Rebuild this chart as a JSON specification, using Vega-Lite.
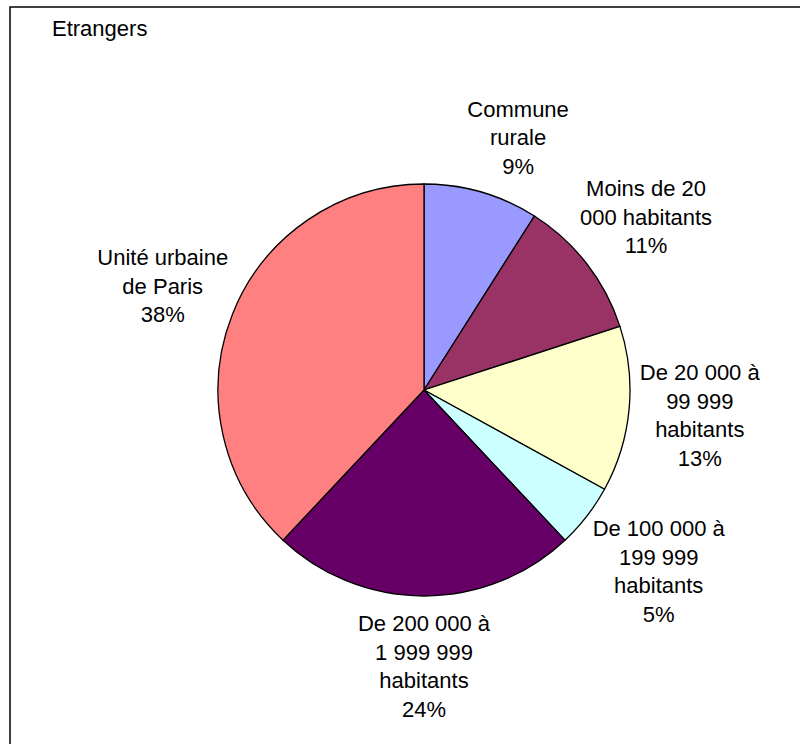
{
  "$schema": "https://vega.github.io/schema/vega-lite/v6.json",
  "autosize": {"type": "none"},
  "width": 828,
  "height": 766,
  "padding": {"left": 10, "top": 7, "right": -38, "bottom": -29},
  "background": "white",
  "view": {"stroke": "black", "strokeWidth": 1.5, "fill": "white"},
  "config": {"view": {"stroke": "black", "strokeWidth": 1.5}, "font": "Liberation Sans"},
  "title": {"text": "Etrangers", "anchor": "start", "frame": "group", "orient": "top", "offset": -51, "dx": 42, "baseline": "alphabetic", "fontSize": 22, "fontWeight": "normal", "font": "Liberation Sans", "color": "black"},
  "data": {"values": [
    {"categorie": "Commune rurale", "part": 9, "ordre": 1, "etiquette": "Commune\nrurale\n9%"},
    {"categorie": "Moins de 20 000 habitants", "part": 11, "ordre": 2, "etiquette": "Moins de 20\n000 habitants\n11%"},
    {"categorie": "De 20 000 à 99 999 habitants", "part": 13, "ordre": 3, "etiquette": "De 20 000 à\n99 999\nhabitants\n13%"},
    {"categorie": "De 100 000 à 199 999 habitants", "part": 5, "ordre": 4, "etiquette": "De 100 000 à\n199 999\nhabitants\n5%"},
    {"categorie": "De 200 000 à 1 999 999 habitants", "part": 24, "ordre": 5, "etiquette": "De 200 000 à\n1 999 999\nhabitants\n24%"},
    {"categorie": "Unité urbaine de Paris", "part": 38, "ordre": 6, "etiquette": "Unité urbaine\nde Paris\n38%"}
  ]},
  "encoding": {
    "theta": {"field": "part", "type": "quantitative", "stack": true},
    "order": {"field": "ordre", "type": "quantitative"}
  },
  "layer": [
    {
      "mark": {"type": "arc", "outerRadius": 206, "stroke": "black", "strokeWidth": 1.3},
      "encoding": {
        "color": {
          "field": "categorie", "type": "nominal", "legend": null,
          "scale": {
            "domain": ["Commune rurale", "Moins de 20 000 habitants", "De 20 000 à 99 999 habitants", "De 100 000 à 199 999 habitants", "De 200 000 à 1 999 999 habitants", "Unité urbaine de Paris"],
            "range": ["#9999FF", "#993366", "#FFFFCC", "#CCFFFF", "#660066", "#FF8080"]
          }
        }
      }
    },
    {
      "mark": {"type": "text", "radius": 281, "dy": -28.5, "fontSize": 22, "lineBreak": "\n", "lineHeight": 28.5, "baseline": "middle", "align": "center", "font": "Liberation Sans", "color": "black"},
      "encoding": {"text": {"condition": {"test": "datum.ordre == 2 || datum.ordre == 6", "field": "etiquette"}, "value": ""}}
    },
    {
      "mark": {"type": "text", "radius": 262, "dx": 21, "dy": -28.5, "fontSize": 22, "lineBreak": "\n", "lineHeight": 28.5, "baseline": "middle", "align": "center", "font": "Liberation Sans", "color": "black"},
      "encoding": {"text": {"condition": {"test": "datum.ordre == 1", "field": "etiquette"}, "value": ""}}
    },
    {
      "mark": {"type": "text", "radius": 277, "dy": -42.75, "fontSize": 22, "lineBreak": "\n", "lineHeight": 28.5, "baseline": "middle", "align": "center", "font": "Liberation Sans", "color": "black"},
      "encoding": {"text": {"condition": {"test": "datum.ordre == 3 || datum.ordre == 5", "field": "etiquette"}, "value": ""}}
    },
    {
      "mark": {"type": "text", "radius": 297, "dy": -42.75, "fontSize": 22, "lineBreak": "\n", "lineHeight": 28.5, "baseline": "middle", "align": "center", "font": "Liberation Sans", "color": "black"},
      "encoding": {"text": {"condition": {"test": "datum.ordre == 4", "field": "etiquette"}, "value": ""}}
    }
  ]
}
